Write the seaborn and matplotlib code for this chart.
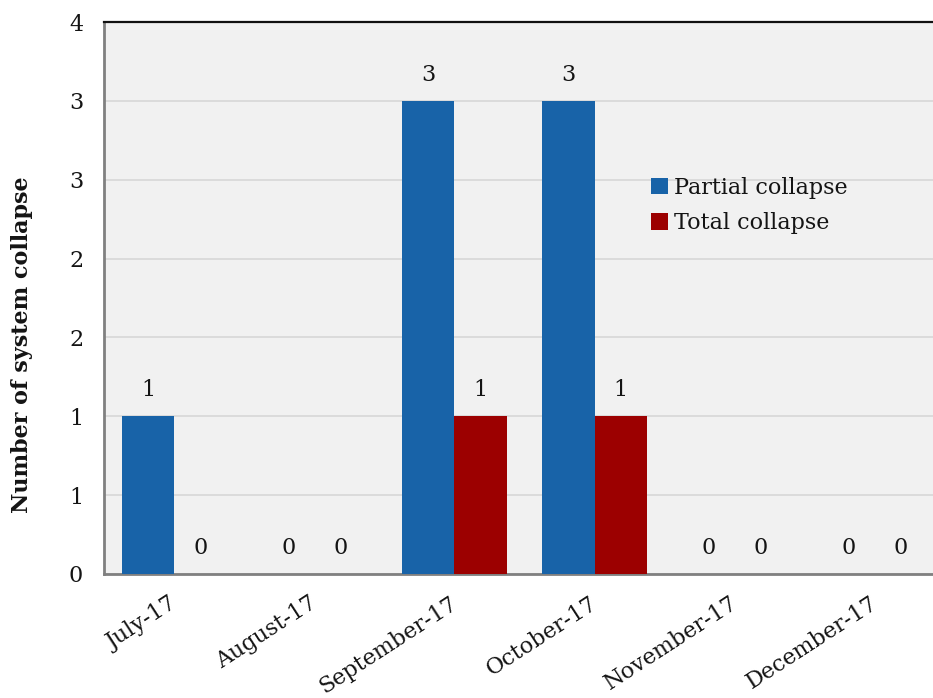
import matplotlib
matplotlib.use("Agg")
import matplotlib.pyplot as plt
import matplotlib.transforms as mtransforms
import seaborn as sns
import pandas as pd
import numpy as np

# Monthly counts of system collapses
months = ["July-17", "August-17", "September-17", "October-17", "November-17", "December-17"]
partial_collapse = [1, 0, 3, 3, 0, 0]
total_collapse = [0, 0, 1, 1, 0, 0]
series_names = ["Partial collapse", "Total collapse"]
series_colors = ["#1863A8", "#9C0000"]
y_ticks = [0, 0.5, 1, 1.5, 2, 2.5, 3, 3.5]
y_tick_labels = ["0", "1", "1", "2", "2", "3", "3", "4"]

df = pd.DataFrame({
    "Month": months * 2,
    "Count": partial_collapse + total_collapse,
    "Type": [series_names[0]] * len(months) + [series_names[1]] * len(months),
})

sns.set_style("white")
plt.rcParams["font.family"] = ["DejaVu Serif"]

FS = 16
TEXT = "#141414"

fig = plt.figure(figsize=(9.33, 6.98), dpi=100)
ax = fig.add_axes([104 / 933, 1 - 574 / 698, 841 / 933, 552 / 698])
ax.set_facecolor("#F1F1F1")

sns.barplot(data=df, x="Month", y="Count", hue="Type", order=months,
            hue_order=series_names, palette=series_colors, width=0.745,
            saturation=1, linewidth=0, ax=ax, zorder=3)

for cont in ax.containers:
    ax.bar_label(cont, labels=[f"{v:.0f}" for v in cont.datavalues],
                 padding=11, fontsize=FS, color=TEXT)

ax.set_xlim(-0.5, 5.5)
ax.set_ylim(0, 3.5)
ax.set_yticks(y_ticks)
ax.set_yticklabels(y_tick_labels, fontsize=FS, color=TEXT)
ax.tick_params(axis="y", length=0, pad=15)
ax.tick_params(axis="x", length=0, pad=13)
ax.set_xticks(range(len(months)))
ax.set_xticklabels(months, rotation=33, ha="right", rotation_mode="anchor",
                   fontsize=FS, color=TEXT)
shift = mtransforms.ScaledTranslation(-5 / 100, 0, fig.dpi_scale_trans)
for lbl in ax.get_xticklabels():
    lbl.set_transform(lbl.get_transform() + shift)
ax.grid(axis="y", color="#D9D9D9", linewidth=1.3, zorder=0)
ax.set_axisbelow(True)

ax.set_xlabel("")
ax.set_ylabel("Number of system collapse", fontsize=FS, fontweight="bold", color=TEXT)
ax.yaxis.set_label_coords(-0.085, 0.415)

for side in ["left", "bottom"]:
    ax.spines[side].set_color("#808080")
    ax.spines[side].set_linewidth(2)
ax.spines["top"].set_color("#111111")
ax.spines["top"].set_linewidth(1.6)
ax.spines["right"].set_visible(False)

leg = ax.legend(loc="upper left", bbox_to_anchor=((642 - 104) / 841, 1 - (168 - 22) / 552),
                frameon=False, fontsize=FS, handlelength=0.75, handleheight=0.75,
                handletextpad=0.3, labelspacing=0.6, borderaxespad=0)
for t in leg.get_texts():
    t.set_color(TEXT)

fig.savefig("out.png", dpi=100, facecolor="white")
